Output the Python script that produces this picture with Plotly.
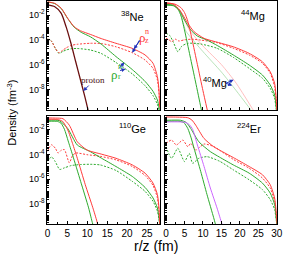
import plotly.graph_objects as go

W, H = 287, 255

# ---------------- data: x in fm, values are log10(density / fm^-3) ----------------
# 38Ne (top left)
ne_prot_x = [0, 1.85, 3.47, 4.68, 5.9, 7.1, 8.3, 9.5, 10.2]
ne_prot_y = [-1.19, -1.33, -1.86, -2.94, -4.28, -5.77, -7.24, -8.72, -9.66]
ne_z_x = [0, 1.85, 3.47, 5.1, 6.7, 8.3, 10.75, 13.5, 17.2, 21.3, 24.5, 26.5, 27.6, 28.0, 28.15]
ne_z_y = [-0.93, -1.06, -1.46, -2.27, -2.94, -3.27, -3.56, -3.9, -4.28, -4.69, -5.22, -5.89, -6.97, -8.05, -9.39]
ne_r_x = [0, 1.85, 3.47, 5.1, 6.7, 8.5, 10.75, 13.5, 17.2, 21.3, 24.5, 26.5, 27.6, 28.0, 28.15]
ne_r_y = [-0.95, -1.08, -1.48, -2.29, -2.98, -3.4, -3.75, -4.35, -5.35, -6.4, -7.35, -8.15, -8.85, -9.45, -9.9]
ne_zd_x = [0, 1.0, 2.0, 2.9, 3.8, 4.7, 6.0, 7.5, 10.75, 13.5, 17.2, 21.3, 24.5, 26.5, 27.6, 28.0, 28.2]
ne_zd_y = [-3.93, -4.1, -4.7, -5.05, -4.85, -4.65, -4.45, -4.36, -4.28, -4.3, -4.56, -5.04, -5.63, -6.3, -7.24, -8.31, -9.6]
ne_rd_x = [0, 1.0, 2.0, 2.9, 3.8, 4.7, 6.0, 7.5, 10.75, 13.5, 17.2, 21.3, 24.5, 26.5, 27.6, 28.0]
ne_rd_y = [-3.93, -4.1, -4.7, -5.1, -4.95, -4.82, -4.72, -4.7, -4.82, -5.1, -5.83, -6.75, -7.7, -8.5, -9.2, -9.7]

# 44Mg (top right) + 40Mg
mg_z_x = [0, 1.9, 3.7, 5.9, 7.6, 10.3, 14.2, 18.2, 22.5, 26.1, 28.2, 29.4, 29.8, 30.0]
mg_z_y = [-1.01, -1.11, -1.6, -2.67, -3.35, -3.88, -4.22, -4.56, -5.09, -5.77, -6.57, -7.51, -8.59, -9.66]
mg_pz_x = [0, 2.4, 4.0, 5.0, 5.9, 7.0, 8.5, 10.0, 11.2]
mg_pz_y = [-1.06, -1.12, -1.4, -1.8, -2.5, -3.9, -6.0, -8.1, -9.7]
mg_r_x = [0, 2.0, 3.7, 5.0, 6.7, 8.5, 11.1, 14.0, 18.2, 22.5, 26.1, 28.2, 29.4, 29.8, 30.0]
mg_r_y = [-1.15, -1.2, -1.65, -2.4, -3.21, -3.7, -4.02, -4.48, -5.22, -6.03, -6.84, -7.64, -8.45, -9.39, -9.9]
mg_pr_x = [0, 2.0, 3.2, 4.1, 5.0, 6.5, 8.0, 9.4, 9.6]
mg_pr_y = [-1.2, -1.25, -1.5, -2.1, -3.2, -5.3, -7.4, -9.4, -9.7]
mg_zd_x = [0, 0.8, 1.5, 2.5, 3.5, 5.0, 7.0, 9.4, 13.8, 18.2, 22.5, 26.1, 28.2, 29.4, 29.8, 30.0]
mg_zd_y = [-3.88, -4.0, -4.15, -3.95, -4.1, -4.0, -3.95, -4.02, -4.23, -4.68, -5.22, -5.89, -6.7, -7.78, -8.85, -9.7]
mg_rd_x = [0, 1.0, 2.0, 3.2, 4.3, 5.9, 9.4, 13.8, 18.2, 22.5, 26.1, 28.2, 29.4, 29.8, 30.0]
mg_rd_y = [-3.47, -3.65, -4.2, -4.96, -4.5, -4.28, -4.34, -4.68, -5.41, -6.3, -7.1, -7.91, -8.72, -9.52, -9.9]
mg40_z_x = [0, 2.0, 3.7, 5.0, 6.3, 10, 15, 19, 23.6]
mg40_z_y = [-1.01, -1.12, -1.6, -2.4, -3.2, -4.5, -6.0, -7.5, -9.66]
mg40_r_x = [0, 2.0, 3.7, 4.6, 5.4, 10, 15, 19, 23.0]
mg40_r_y = [-1.19, -1.25, -1.75, -2.6, -3.3, -4.95, -6.6, -8.1, -9.66]

# 110Ge (bottom left)
ge_z_x = [0, 2.0, 3.9, 5.5, 7.5, 9.95, 13.5, 17.2, 21.3, 24.5, 26.5, 27.6, 28.0, 28.15, 28.25]
ge_z_y = [-1.03, -1.04, -1.09, -1.62, -2.97, -3.64, -3.97, -4.31, -4.85, -5.52, -6.33, -7.26, -8.35, -9.42, -9.8]
ge_pz_x = [0, 2.5, 3.8, 5.1, 6.3, 7.5, 9.5, 11.4, 12.4, 12.6]
ge_pz_y = [-1.14, -1.15, -1.3, -2.0, -3.1, -4.31, -6.46, -8.34, -9.42, -9.7]
ge_r_x = [0, 3.0, 5.1, 7.5, 10.75, 13.6, 17.2, 21.3, 24.5, 26.5, 27.6, 28.0, 28.15]
ge_r_y = [-1.22, -1.25, -1.89, -3.23, -3.77, -4.31, -4.98, -5.79, -6.68, -7.54, -8.35, -9.15, -9.7]
ge_pr_x = [0, 2.5, 3.4, 4.27, 5.2, 6.31, 8.33, 10.34, 11.17, 11.4]
ge_pr_y = [-1.3, -1.31, -1.45, -1.95, -2.9, -4.04, -6.19, -8.35, -9.42, -9.7]
ge_zd_x = [0, 1.04, 2.0, 2.67, 3.5, 4.27, 5.49, 6.3, 7.1, 9.95, 13.2, 17.2, 21.3, 24.5, 26.5, 27.6, 28.0, 28.2]
ge_zd_y = [-3.75, -3.21, -3.5, -3.88, -3.65, -3.61, -4.68, -4.1, -3.88, -4.02, -4.15, -4.44, -4.98, -5.71, -6.52, -7.54, -8.61, -9.7]
ge_rd_x = [0, 1.04, 2.0, 3.06, 4.27, 6.0, 8.33, 10.75, 13.2, 17.2, 21.3, 24.5, 26.5, 27.6, 28.0, 28.2]
ge_rd_y = [-4.56, -4.2, -4.6, -5.22, -5.09, -4.9, -4.82, -4.8, -4.85, -5.3, -6.19, -7.0, -7.81, -8.61, -9.28, -9.7]

# 224Er (bottom right)
er_z_x = [0, 3.0, 5.9, 7.0, 8.05, 10.3, 12.9, 14.5, 18.2, 22.5, 26.1, 28.2, 29.4, 29.8, 30.0, 30.1]
er_z_y = [-0.95, -0.96, -1.01, -1.2, -1.62, -2.7, -3.37, -3.65, -4.25, -4.98, -5.65, -6.46, -7.54, -8.61, -9.42, -9.8]
er_p_x = [0, 4.0, 5.4, 6.4, 7.2, 8.5, 10.3, 12.0, 13.8, 14.9, 15.2]
er_p_y = [-1.35, -1.35, -1.4, -1.6, -1.95, -3.23, -4.98, -6.73, -8.35, -9.42, -9.7]
er_r_x = [0, 4.0, 5.5, 6.7, 8.9, 12.0, 14.5, 18.2, 22.5, 26.1, 28.2, 29.4, 29.8, 30.0]
er_r_y = [-1.22, -1.22, -1.4, -1.89, -2.97, -3.77, -4.22, -4.85, -5.52, -6.33, -7.14, -8.07, -9.01, -9.7]
er_pr_x = [0, 3.5, 4.8, 5.9, 6.8, 7.6, 9.4, 11.1, 12.9, 13.4]
er_pr_y = [-1.3, -1.3, -1.4, -1.89, -2.65, -3.51, -5.39, -7.27, -9.15, -9.7]
er_zd_x = [0, 1.5, 2.8, 4.55, 5.9, 6.7, 8.05, 10.3, 12.9, 14.5, 18.2, 22.5, 26.1, 28.2, 29.4, 29.8, 30.05]
er_zd_y = [-3.1, -2.83, -3.23, -2.83, -3.37, -3.1, -3.64, -3.15, -3.35, -3.65, -4.4, -5.12, -5.92, -6.73, -7.81, -8.88, -9.7]
er_rd_x = [0, 1.5, 3.2, 5.0, 6.3, 7.2, 8.9, 11.1, 14.5, 18.2, 22.5, 26.1, 28.2, 29.4, 29.8, 30.0]
er_rd_y = [-3.37, -4.31, -3.5, -4.58, -3.91, -4.72, -4.31, -4.18, -4.55, -5.25, -6.06, -6.86, -7.67, -8.48, -9.28, -9.7]

# tick labels
y_tick_vals = [1e-2, 1e-4, 1e-6, 1e-8]
y_tick_text = ["10<sup>-2</sup>", "10<sup>-4</sup>", "10<sup>-6</sup>", "10<sup>-8</sup>"]
y_minor_exp = list(range(-10, 0))
x_tick_left = [0, 5, 10, 15, 20, 25]
x_tick_right = [0, 5, 10, 15, 20, 25, 30]
x_minor = [2.5, 7.5, 12.5, 17.5, 22.5, 27.5]

# ---------------- styles ----------------
RED = "#ff3b3b"
GREEN = "#2eaa2e"
DARK = "#6b1010"
PURPLE = "#cc66ff"
LRED = "#ffb0b0"
LGREEN = "#a8dca8"
BLUE = "#2233bb"
FONT = "Arial, Liberation Sans, sans-serif"
SER = "Liberation Serif, DejaVu Serif, serif"

fig = go.Figure()


def add(x, logy, color, panel, dash="solid", width=1.0):
    fig.add_trace(go.Scatter(
        x=x, y=[10 ** v for v in logy], mode="lines",
        line=dict(color=color, dash=dash, width=width, shape="spline", smoothing=0.6),
        xaxis="x" + panel, yaxis="y" + panel, showlegend=False, hoverinfo="skip"))


DOT = "2px,1.5px"
# 38Ne
add(ne_rd_x, ne_rd_y, GREEN, "", DOT)
add(ne_zd_x, ne_zd_y, RED, "", DOT)
add(ne_r_x, ne_r_y, GREEN, "")
add(ne_z_x, ne_z_y, RED, "")
add(ne_prot_x, ne_prot_y, DARK, "", width=1.3)
# 44Mg
add(mg40_z_x, mg40_z_y, LRED, "2", width=0.8)
add(mg40_r_x, mg40_r_y, LGREEN, "2", width=0.8)
add(mg_rd_x, mg_rd_y, GREEN, "2", DOT)
add(mg_zd_x, mg_zd_y, RED, "2", DOT)
add(mg_r_x, mg_r_y, GREEN, "2")
add(mg_pr_x, mg_pr_y, GREEN, "2")
add(mg_z_x, mg_z_y, RED, "2")
add(mg_pz_x, mg_pz_y, RED, "2")
# 110Ge
add(ge_rd_x, ge_rd_y, GREEN, "3", DOT)
add(ge_zd_x, ge_zd_y, RED, "3", DOT)
add(ge_r_x, ge_r_y, GREEN, "3")
add(ge_pr_x, ge_pr_y, GREEN, "3")
add(ge_z_x, ge_z_y, RED, "3")
add(ge_pz_x, ge_pz_y, RED, "3")
# 224Er
add(er_rd_x, er_rd_y, GREEN, "4", DOT)
add(er_zd_x, er_zd_y, RED, "4", DOT)
add(er_r_x, er_r_y, GREEN, "4")
add(er_pr_x, er_pr_y, GREEN, "4")
add(er_z_x, er_z_y, RED, "4")
add(er_p_x, er_p_y, PURPLE, "4")


def px(xp):
    return xp / W


def py(yp):
    return 1 - yp / H


XL = [px(45.7), px(161.7)]
XR = [px(166.7), px(282.3)]
YT = [py(110), py(1)]
YB = [py(224), py(116)]

axis_common = dict(showline=True, linecolor="black", linewidth=1, mirror=True,
                   ticks="inside", tickcolor="black", ticklen=3, showgrid=False,
                   zeroline=False, ticklabeloverflow="allow",
                   tickfont=dict(family=FONT, size=10, color="black"))

yminor = [m * 10.0 ** e for e in y_minor_exp for m in (1, 2, 3, 4, 5, 6, 7, 8, 9)]


def xaxis(domain, anchor, rng, tv, labels):
    return dict(axis_common, domain=domain, anchor=anchor, range=rng, tickvals=tv,
                showticklabels=labels,
                minor=dict(ticks="inside", ticklen=2, tickcolor="black", tickvals=x_minor))


def yaxis(domain, anchor, labels):
    d = dict(axis_common, domain=domain, anchor=anchor, type="log", range=[-9.66, -0.87],
             tickvals=y_tick_vals, ticktext=y_tick_text, showticklabels=labels,
             minor=dict(ticks="inside", ticklen=1.5, tickcolor="black", tickvals=yminor))
    d["tickfont"] = dict(family=FONT, size=9, color="black")
    return d


fig.update_layout(
    width=W, height=H, margin=dict(l=0, r=0, t=0, b=0),
    paper_bgcolor="white", plot_bgcolor="white",
    xaxis=xaxis(XL, "y", [0, 28.3], x_tick_left, False),
    yaxis=yaxis(YT, "x", True),
    xaxis2=xaxis(XR, "y2", [-0.26, 30.16], x_tick_right, False),
    yaxis2=yaxis(YT, "x2", False),
    xaxis3=xaxis(XL, "y3", [0, 28.3], x_tick_left, True),
    yaxis3=yaxis(YB, "x3", True),
    xaxis4=xaxis(XR, "y4", [-0.26, 30.16], x_tick_right, True),
    yaxis4=yaxis(YB, "x4", False),
)

ann = []


def text(xp, yp, s, size=11, color="black", family=FONT, angle=0):
    ann.append(dict(x=px(xp), y=py(yp), xref="paper", yref="paper", text=s, showarrow=False,
                    font=dict(family=family, size=size, color=color), textangle=angle,
                    xanchor="center", yanchor="middle"))


def arrow(xd, logy, dx, dy, panel=""):
    ann.append(dict(x=xd, y=logy, xref="x" + panel, yref="y" + panel, text="", showarrow=True,
                    ax=dx, ay=dy, arrowhead=2, arrowsize=0.8, arrowwidth=1, arrowcolor=BLUE))


text(133, 16, "<sup>38</sup>Ne", 11)
text(257, 15, "<sup>44</sup>Mg", 11)
text(133, 128, "<sup>110</sup>Ge", 11)
text(253, 128, "<sup>224</sup>Er", 11)
text(218, 82, "<sup>40</sup>Mg", 11)
text(93, 80, "proton", 9, "#4a1010", SER)
text(144, 37, "ρ", 13, RED, SER)
text(148.5, 31, "n", 8, RED, SER)
text(148.5, 40, "z", 8, RED, SER)
text(115, 74, "ρ", 13, GREEN, SER)
text(120.5, 66.5, "n", 8, GREEN, SER)
text(120, 76, "r", 8, GREEN, SER)
text(9, 113, "Density (fm<sup>-3</sup>)", 11, angle=-90)
text(157, 246, "r/z (fm)", 14)

# arrows
arrow(21.7, -4.75, 7, -10)
arrow(21.3, -5.04, 8, -14)
arrow(19.3, -5.82, -6, 7)
arrow(19.6, -6.35, -7, 2)
arrow(9.0, -8.13, 7, -7)
arrow(18.3, -7.23, -9, 4, "2")
arrow(17.9, -7.69, -8, -3, "2")

fig.update_layout(annotations=ann)
fig.write_html("out.html", config={"displayModeBar": False, "staticPlot": True},
               post_script="document.body.style.margin='0';document.body.style.overflow='hidden';")
